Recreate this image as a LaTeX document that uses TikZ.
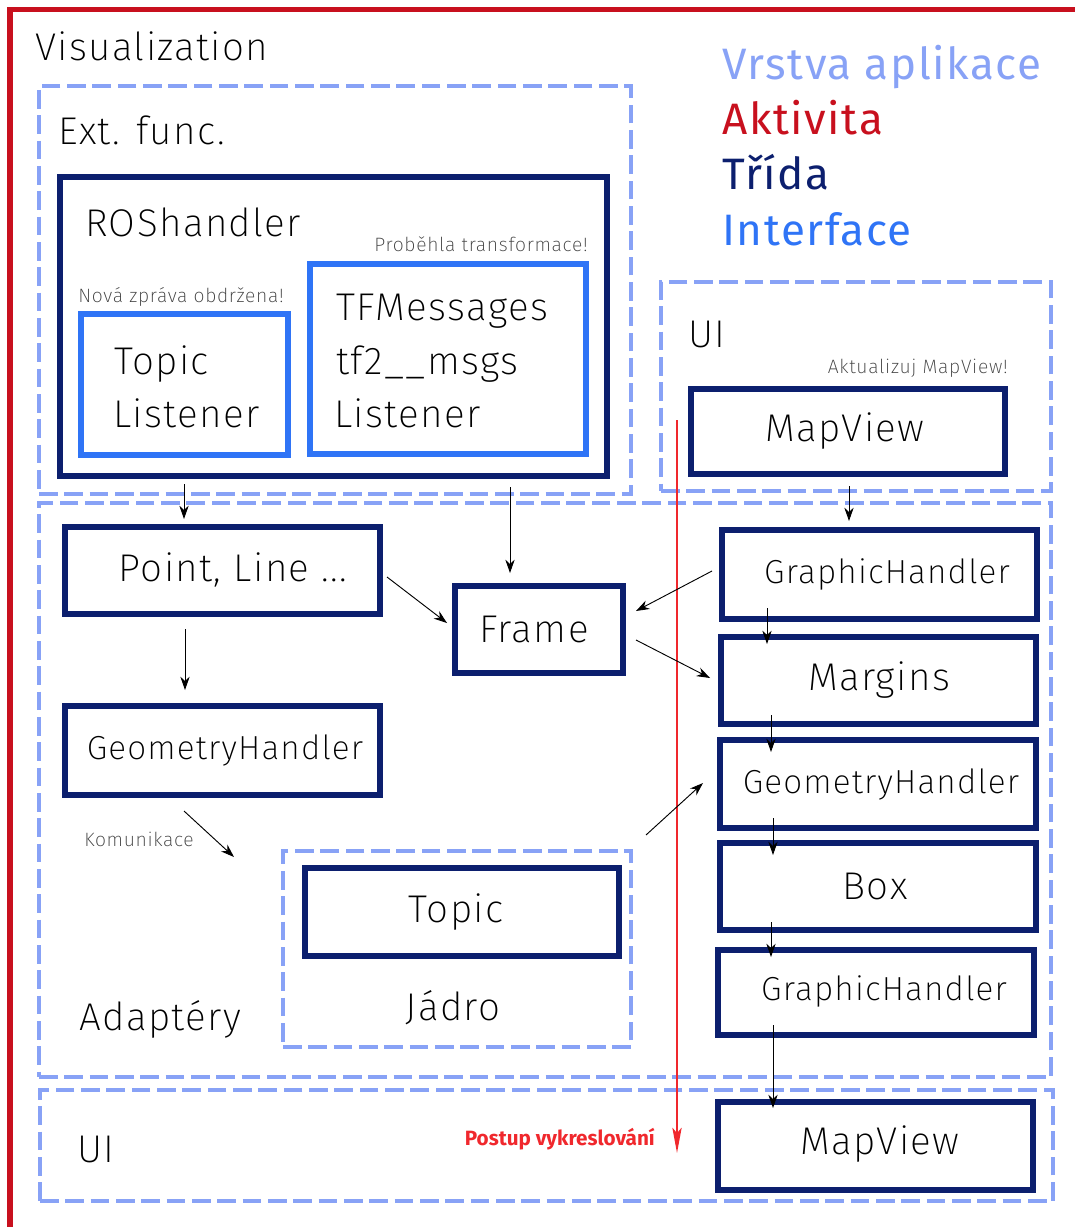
\documentclass[tikz,border=0pt]{standalone}
\usepackage{fontspec}
\IfFontExistsTF{Fira Sans ExtraLight}{\setmainfont{Fira Sans ExtraLight}[LetterSpace=3.5]}{%
  \IfFontExistsTF{FiraSans-ExtraLight.otf}{\setmainfont{FiraSans-ExtraLight.otf}[LetterSpace=3.5]}{%
    \IfFontExistsTF{Fira Sans Light}{\setmainfont{Fira Sans Light}[LetterSpace=3.5]}{\setmainfont{Fira Sans}[LetterSpace=3.5]}}}
\newfontfamily\regfont{Fira Sans}[LetterSpace=3.6]
\newfontfamily\boldfont{Fira Sans}
\usetikzlibrary{arrows.meta,fit}
\definecolor{navy}{HTML}{0C1F6E}
\definecolor{layer}{HTML}{88A2F6}
\definecolor{iface}{HTML}{2F74F6}
\definecolor{border}{HTML}{C8101E}
\definecolor{flow}{HTML}{F0282D}
\definecolor{note}{HTML}{404040}
\begin{document}
\begin{tikzpicture}[x=0.75pt,y=-0.75pt,
  cls/.style={draw=navy, line width=4.5pt, inner sep=0pt},
  ifc/.style={draw=iface, line width=4.2pt, inner sep=0pt},
  lay/.style={draw=layer, line width=2.3pt, dash pattern=on 14pt off 5pt, inner sep=0pt},
  big/.style={font=\fontsize{29}{34}\selectfont, inner sep=0pt},
  mid/.style={font=\fontsize{25}{30}\selectfont, inner sep=0pt},
  small/.style={font=\fontsize{14.5}{17}\selectfont, text=note, inner sep=0pt},
  leg/.style={font=\regfont\fontsize{33}{38}\selectfont, inner sep=0pt, anchor=base west},
  arr/.style={-{Stealth[length=10pt,width=7pt]}, line width=0.7pt, black},
]
\useasboundingbox (0,0) rectangle (1075,1227);
% red border
\coordinate (b1) at (10,1227);
\coordinate (b2) at (10,9.5);
\coordinate (b3) at (1075,9.5);
\draw[border, line width=3.8pt] (b1) -- (b2) -- (b3);
\node[big, anchor=base west] (vis) at (35,61) {Visualization};

% legend
\node[leg, text=layer] (l1) at (722,80) {Vrstva aplikace};
\node[leg, text=border] (l2) at (722,135) {Aktivita};
\node[leg, text=navy] (l3) at (722,190) {Třída};
\node[leg, text=iface] (l4) at (722,245) {Interface};

% layers
\node[lay, fit={(39,86)(631,494)}] (ext) {};
\node[big, anchor=base west] (extl) at (58,145) {Ext. func.};
\node[lay, fit={(661,282)(1051,491)}] (ui1) {};
\node[big, anchor=base west] (ui1l) at (688,347) {UI};
\node[lay, fit={(39,503)(1051,1077)}] (adp) {};
\node[big, anchor=base west] (adpl) at (79,1030) {Adaptéry};
\node[lay, fit={(283,851)(631,1047)}] (jad) {};
\node[big, anchor=base] (jadl) at (453,1020) {Jádro};
\node[lay, fit={(40,1090)(1053,1201)}] (ui2) {};
\node[big, anchor=base west] (ui2l) at (77,1162) {UI};

% Ext. func.
\node[cls, fit={(60,177)(607,476)}] (ros) {};
\node[big, anchor=base west] (rosl) at (85,236) {ROShandler};
\node[small, anchor=base east] (n1) at (588,251) {Proběhla transformace!};
\node[small, anchor=base west] (n2) at (78,302) {Nová zpráva obdržena!};
\node[ifc, fit={(81,314)(288,455)}] (tl) {};
\node[big, anchor=base west] (tl1) at (114,374) {Topic};
\node[big, anchor=base west] (tl2) at (113,427) {Listener};
\node[ifc, fit={(310,264)(586,454)}] (tf) {};
\node[big, anchor=base west] (tf1) at (336,320) {TFMessages};
\node[big, anchor=base west] (tf2) at (336,374) {tf2\_\_msgs};
\node[big, anchor=base west] (tf3) at (334,427) {Listener};

% UI top
\node[small, anchor=base east] (n3) at (1008,373) {Aktualizuj MapView!};
\node[cls, fit={(691,389)(1005,474)}] (mv1) {};
\node[big] (mv1t) at (845,431) {MapView};

% Adaptéry
\node[cls, fit={(65,527)(380,614)}] (pl) {};
\node[big] (plt) at (233,570) {Point, Line ...};
\node[cls, fit={(65,706)(380,795)}] (gh) {};
\node[mid] (ght) at (225,750) {GeometryHandler};
\node[cls, fit={(455,586)(623,673)}] (fr) {};
\node[big] (frt) at (534,629) {Frame};
\node[small, anchor=base west] (n4) at (84,846) {Komunikace};
\node[cls, fit={(305,868)(619,956)}] (tp) {};
\node[big] (tpt) at (456,912) {Topic};

\node[cls, fit={(722,530)(1037,619)}] (g1) {};
\node[mid] (g1t) at (887,574) {GraphicHandler};
\node[cls, fit={(721,637)(1036,724)}] (mg) {};
\node[big] (mgt) at (879,680) {Margins};
\node[cls, fit={(720,740)(1036,828)}] (g2) {};
\node[mid] (g2t) at (881,784) {GeometryHandler};
\node[cls, fit={(720,843)(1036,930)}] (bx) {};
\node[big] (bxt) at (875,886) {Box};
\node[cls, fit={(718,950)(1034,1035)}] (g3) {};
\node[mid] (g3t) at (884,991) {GraphicHandler};

% UI bottom
\node[cls, fit={(718,1102)(1033,1190)}] (mv2) {};
\node[big] (mv2t) at (880,1144) {MapView};

% flow arrow
\coordinate (f1) at (677,420);
\coordinate (f2) at (677,1153);
\draw[flow, line width=1.1pt, -{Stealth[length=19pt,width=7pt,inset=4pt]}] (f1) -- (f2);
\node[font=\boldfont\bfseries\fontsize{15.5}{18}\selectfont, text=flow, anchor=base east, inner sep=0pt] (pv) at (655,1145) {Postup vykreslování};

% connectors
\coordinate (a1s) at (184,484); \coordinate (a1e) at (184,519);
\draw[arr] (a1s) -- (a1e);
\coordinate (a2s) at (510,487); \coordinate (a2e) at (510,573);
\draw[arr] (a2s) -- (a2e);
\coordinate (a3s) at (849,486); \coordinate (a3e) at (849,521);
\draw[arr] (a3s) -- (a3e);
\coordinate (a4s) at (387,577); \coordinate (a4e) at (447,623);
\draw[arr] (a4s) -- (a4e);
\coordinate (a5s) at (185,629); \coordinate (a5e) at (185,690);
\draw[arr] (a5s) -- (a5e);
\coordinate (a6s) at (712,571); \coordinate (a6e) at (636,611);
\draw[arr] (a6s) -- (a6e);
\coordinate (a7s) at (636,640); \coordinate (a7e) at (710,678);
\draw[arr] (a7s) -- (a7e);
\coordinate (a8s) at (767,608); \coordinate (a8e) at (767,644);
\draw[arr] (a8s) -- (a8e);
\coordinate (a9s) at (771,715); \coordinate (a9e) at (771,752);
\draw[arr] (a9s) -- (a9e);
\coordinate (a10s) at (773,818); \coordinate (a10e) at (773,855);
\draw[arr] (a10s) -- (a10e);
\coordinate (a11s) at (771,922); \coordinate (a11e) at (771,957);
\draw[arr] (a11s) -- (a11e);
\coordinate (a12s) at (773,1025); \coordinate (a12e) at (773,1108);
\draw[arr] (a12s) -- (a12e);
\coordinate (a13s) at (184,811); \coordinate (a13e) at (234,857);
\draw[arr] (a13s) -- (a13e);
\coordinate (a14s) at (646,835); \coordinate (a14e) at (703,783);
\draw[arr] (a14s) -- (a14e);
\end{tikzpicture}
\end{document}
